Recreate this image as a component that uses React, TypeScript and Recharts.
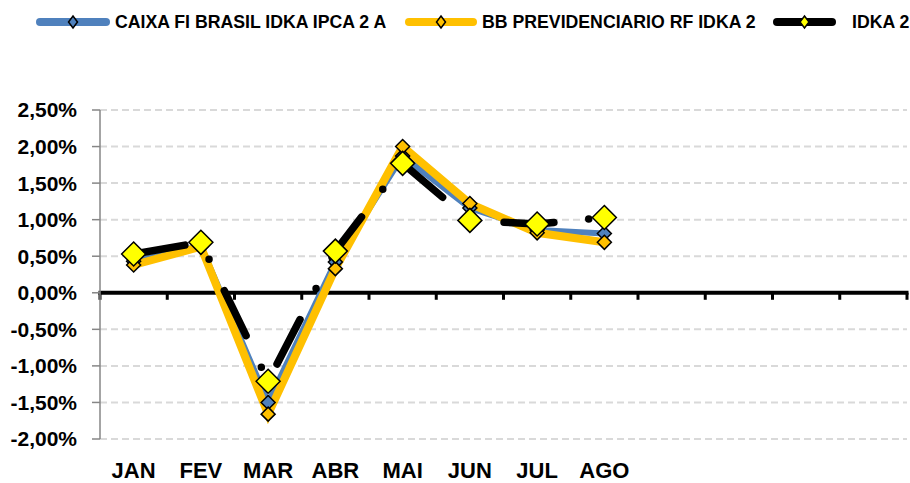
import React from 'react';
import { LineChart, Line, XAxis, YAxis, CartesianGrid, ReferenceLine } from 'recharts';

const months = ['JAN', 'FEV', 'MAR', 'ABR', 'MAI', 'JUN', 'JUL', 'AGO', 'SET', 'OUT', 'NOV', 'DEZ'];
const xLabels = ['JAN', 'FEV', 'MAR', 'ABR', 'MAI', 'JUN', 'JUL', 'AGO', '', '', '', ''];
const caixa = [0.43, 0.64, -1.5, 0.42, 1.87, 1.16, 0.86, 0.81];
const bb = [0.38, 0.63, -1.66, 0.33, 2.0, 1.22, 0.82, 0.69];
const idka = [0.53, 0.69, -1.21, 0.57, 1.77, 0.99, 0.94, 1.03];
const yTicks = [-2, -1.5, -1, -0.5, 0, 0.5, 1, 1.5, 2, 2.5];
const seriesNames = ['CAIXA FI BRASIL IDKA IPCA 2 A', 'BB PREVIDENCIARIO RF IDKA 2', 'IDKA 2'];

const data = months.map((m, i) => ({ month: m, caixa: caixa[i], bb: bb[i], idka: idka[i] }));

const FONT = '"Liberation Sans", Arial, sans-serif';
const BLUE = '#4F81BD';
const ORANGE = '#FFC000';
const YELLOW = '#FFFF00';

const fmt = (v: number) => v.toFixed(2).replace('.', ',') + '%';

const diamond = (r: number, fill: string) => (props: any) => {
  const { cx, cy, index, value } = props;
  if (cx == null || cy == null || value == null || Number.isNaN(cy)) return <g key={`d${index}`} />;
  return (
    <path
      key={`d${index}`}
      d={`M${cx},${cy - r}L${cx + r},${cy}L${cx},${cy + r}L${cx - r},${cy}Z`}
      fill={fill}
      stroke="#000"
      strokeWidth={1.5}
    />
  );
};

const ZeroAxis = (props: any) => {
  const { x1, y1, x2 } = props;
  const n = months.length;
  const step = (x2 - x1) / n;
  const ticks = [];
  for (let i = 0; i <= n; i++) {
    const x = x1 + i * step;
    ticks.push(<line key={i} x1={x} y1={y1} x2={x} y2={y1 + 7} stroke="#000" strokeWidth={3} />);
  }
  return (
    <g>
      <line x1={x1 - 1.5} y1={y1} x2={x2 + 1.5} y2={y1} stroke="#000" strokeWidth={4} />
      {ticks}
    </g>
  );
};

const XTick = (props: any) => {
  const { x, y, index } = props;
  return (
    <text x={x} y={y + 39} textAnchor="middle" fontFamily={FONT} fontWeight="bold" fontSize={22} fill="#000">
      {xLabels[index]}
    </text>
  );
};

const legendItems = [
  { name: seriesNames[0], color: BLUE, marker: BLUE, x0: 36, x1: 110, tx: 115 },
  { name: seriesNames[1], color: ORANGE, marker: ORANGE, x0: 405, x1: 477, tx: 482 },
  { name: seriesNames[2], color: '#000', marker: YELLOW, x0: 773, x1: 836, tx: 852 },
];

const LegendBar = () => (
  <svg width={910} height={45} style={{ position: 'absolute', left: 0, top: 0 }}>
    {legendItems.map((it) => {
      const cx = (it.x0 + it.x1) / 2;
      const cy = 22;
      const r = 6;
      return (
        <g key={it.name}>
          <line x1={it.x0 + 4} y1={cy} x2={it.x1 - 4} y2={cy} stroke={it.color} strokeWidth={8} strokeLinecap="round" />
          <path d={`M${cx},${cy - r}L${cx + r * 0.75},${cy}L${cx},${cy + r}L${cx - r * 0.75},${cy}Z`} fill={it.marker} stroke="#000" strokeWidth={1.5} />
          <text x={it.tx} y={cy + 6} fontFamily={FONT} fontWeight="bold" fontSize={17.7} fill="#000">
            {it.name}
          </text>
        </g>
      );
    })}
  </svg>
);

export default function App() {
  return (
    <div style={{ position: 'relative', width: 910, height: 483, background: '#fff' }}>
      <style>{`body{margin:0}`}</style>
      <LegendBar />
      <LineChart width={910} height={483} data={data} margin={{ top: 110, right: 3, left: 0, bottom: 0 }}>
        <CartesianGrid vertical={false} stroke="#D9D9D9" strokeWidth={2} strokeDasharray="7 4" />
        <XAxis
          dataKey="month"
          scale="band"
          height={44}
          axisLine={false}
          tickLine={false}
          tickSize={0}
          tickMargin={0}
          interval={0}
          tick={<XTick />}
        />
        <YAxis
          width={100}
          domain={[-2, 2.5]}
          ticks={yTicks}
          interval={0}
          tickFormatter={fmt}
          axisLine={{ stroke: '#868686', strokeWidth: 1.5 }}
          tickLine={{ stroke: '#868686', strokeWidth: 1.5 }}
          tickSize={8}
          tickMargin={15}
          tick={{ fontFamily: FONT, fontWeight: 'bold', fontSize: 21, fill: '#000' }}
        />
        <ReferenceLine y={0} shape={<ZeroAxis />} ifOverflow="visible" />
        <Line
          name={seriesNames[0]}
          dataKey="caixa"
          type="linear"
          stroke={BLUE}
          strokeWidth={6}
          dot={diamond(7, BLUE)}
          activeDot={false}
          isAnimationActive={false}
        />
        <Line
          name={seriesNames[1]}
          dataKey="bb"
          type="linear"
          stroke={ORANGE}
          strokeWidth={8}
          dot={diamond(7, ORANGE)}
          activeDot={false}
          isAnimationActive={false}
        />
        <Line
          name={seriesNames[2]}
          dataKey="idka"
          type="linear"
          stroke="#000"
          strokeWidth={7.5}
          strokeLinecap="round"
          strokeDasharray="50 35 0 35"
          strokeDashoffset={-2}
          dot={diamond(12, YELLOW)}
          activeDot={false}
          isAnimationActive={false}
        />
      </LineChart>
    </div>
  );
}
